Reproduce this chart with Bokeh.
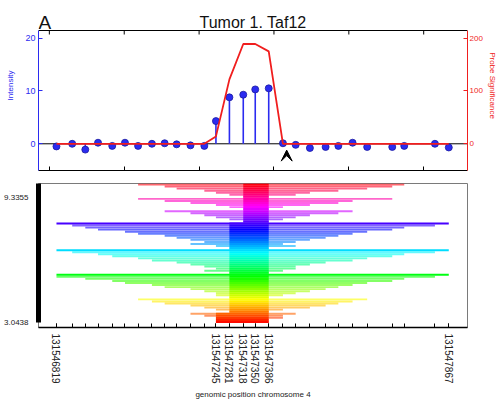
import colorsys
from bokeh.plotting import figure
from bokeh.layouts import column
from bokeh.core.properties import value
from bokeh.models import (Range1d, LinearAxis, FixedTicker, SingleIntervalTicker,
                          Span, ColumnDataSource, BasicTickFormatter, Arrow, VeeHead)
from bokeh.embed import file_html
from bokeh.resources import INLINE

FONT = "Liberation Sans"

# ---------------- data ----------------
title_text = "Tumor 1. Taf12"
panel_letter = "A"
x_axis_title = "genomic position chromosome 4"

probe_pos = [131546819, 131546861, 131546896, 131546930, 131546968, 131547002, 131547037,
             131547074, 131547108, 131547140, 131547177, 131547214, 131547245, 131547281,
             131547318, 131547350, 131547386, 131547424, 131547458, 131547496, 131547538,
             131547572, 131547610, 131547649, 131547716, 131547748, 131547830, 131547867]
intensity = [-0.5, 0.0, -1.1, 0.2, -0.4, 0.2, -0.4, 0.0, 0.1, -0.1, -0.3, -0.4,
             4.3, 8.8, 9.3, 10.3, 10.5,
             0.1, -0.2, -0.8, -0.6, -0.4, 0.2, -0.6, -0.6, -0.4, 0.0, -0.7]
significance = [0, 0, 0, 0, 0, 0, 0, 0, 0, 0, 0, 0,
                14, 122, 189, 189, 175,
                0, 0, 0, 0, 0, 0, 0, 0, 0, 0, 0]
labelled_pos = [131546819, 131547245, 131547281, 131547318, 131547350, 131547386, 131547867]
arrow_pos = 131547434
arrow_tip = -1.2

# candidate segments (probe index start/end), top to bottom, grouped
seg_group = [1, 1, 1, 1, 1, 1, 1,
             2, 2, 2, 2, 2, 2,
             3, 3, 3, 3, 3, 3,
             4, 4, 4, 4, 4, 4, 4, 4, 4, 4, 4, 4, 4,
             5, 5, 5, 5, 5, 5, 5, 5, 5, 5, 5, 5,
             6, 6, 6, 6, 6, 6, 6, 6, 6, 6, 6, 6,
             7, 7, 7, 7, 7, 7, 7,
             8, 8, 8, 8, 8]
seg_start = [6, 8, 9, 11, 12, 13, 14,
             6, 8, 10, 12, 13, 14,
             8, 10, 11, 12, 13, 14,
             0, 1, 2, 3, 5, 6, 8, 9, 10, 11, 10, 12, 13,
             0, 1, 3, 4, 6, 7, 9, 10, 11, 12, 11, 13,
             0, 0, 2, 4, 5, 7, 8, 10, 11, 12, 12, 13,
             6, 7, 8, 10, 11, 12, 13,
             10, 11, 12, 12, 12]
seg_end = [25, 24, 23, 21, 19, 18, 16,
           24, 22, 21, 19, 17, 16,
           22, 21, 19, 18, 17, 16,
           27, 26, 25, 24, 23, 22, 21, 20, 19, 18, 17, 18, 16,
           27, 26, 25, 24, 23, 22, 20, 19, 18, 18, 17, 16,
           27, 26, 25, 24, 23, 22, 21, 20, 19, 18, 17, 16,
           23, 22, 21, 20, 19, 17, 16,
           18, 17, 17, 16, 16]
score_top_label = "9.3355"
score_bottom_label = "3.0438"

# ---------------- derived ----------------
x_lo, x_hi = 131546771, 131547917
y_lo, y_hi = -5.06, 21.46           # visible intensity axis
px_per_unit = 140 / (y_hi - y_lo)   # top axes box is 140 px tall
y_canvas_top = y_hi + 30 / px_per_unit   # room above the box for the titles
sig_scale = 10.0
top_ticks = list(range(131546800, x_hi, 200))
tick_len = 4 / px_per_unit

N = len(seg_start)
groups = sorted(set(seg_group))
core = {}
for g in groups:
    idx = [i for i in range(N) if seg_group[i] == g]
    core[g] = (max(seg_start[i] for i in idx), min(seg_end[i] for i in idx))

def hsv_hex(h):
    r, g, b = colorsys.hsv_to_rgb(h % 1.0, 1, 1)
    return "#%02x%02x%02x" % (int(r * 255), int(g * 255), int(b * 255))

yc = [N - i - 0.5 for i in range(N)]
cols = [hsv_hex(y / N) for y in yc]
full_span = [(seg_start[i] == 0 and seg_end[i] == len(probe_pos) - 1) for i in range(N)]

light = ColumnDataSource(dict(
    left=[probe_pos[s] for s in seg_start], right=[probe_pos[e] for e in seg_end],
    bottom=[y - 0.47 for y in yc], top=[y + 0.47 for y in yc], color=cols,
    alpha=[1.0 if f else 0.6 for f in full_span]))
cores = ColumnDataSource(dict(
    left=[probe_pos[core[g][0]] for g in seg_group], right=[probe_pos[core[g][1]] for g in seg_group],
    bottom=[y - 0.5 for y in yc], top=[y + 0.5 for y in yc], color=cols))

# ---------------- top panel ----------------
BLUE = "#2b2bf0"
RED = "#f01e1e"
p1 = figure(width=499, height=178, x_range=Range1d(x_lo, x_hi), y_range=Range1d(y_lo, y_canvas_top),
            output_backend="svg", toolbar_location=None, title=None,
            min_border_left=38, min_border_right=29, min_border_top=0, min_border_bottom=8,
            x_axis_location=None, y_axis_location=None)
p1.grid.visible = False
p1.outline_line_color = None

# panel letter and title
p1.text(x=[x_lo], y=[y_hi + 8 / px_per_unit], text=[panel_letter], text_font=value(FONT),
        text_font_size="19px", text_color="#111111", text_baseline="alphabetic", text_align="left")
p1.text(x=[(x_lo + x_hi) / 2], y=[y_hi + 8 / px_per_unit], text=[title_text], text_font=value(FONT),
        text_font_size="16px", text_color="#111111", text_baseline="alphabetic", text_align="center")

# bottom axis: ticks only
xb = LinearAxis(ticker=FixedTicker(ticks=[], minor_ticks=top_ticks))
xb.minor_tick_in = 4
xb.minor_tick_out = 0
xb.major_tick_out = 0
xb.major_label_standoff = 0
xb.minor_tick_line_color = "black"
xb.axis_line_color = "black"
p1.add_layout(xb, "below")

# top border of the axes box with inward ticks
p1.add_layout(Span(location=y_hi, dimension="width", line_color="black", line_width=1))
p1.segment(x0=top_ticks, y0=[y_hi] * len(top_ticks), x1=top_ticks,
           y1=[y_hi - tick_len] * len(top_ticks), line_color="black", line_width=1)

yl = LinearAxis(ticker=SingleIntervalTicker(interval=10, num_minor_ticks=0), axis_label="Intensity",
                bounds=(y_lo, y_hi))
yl.axis_line_color = BLUE
yl.major_tick_line_color = BLUE
yl.major_tick_in = 4
yl.major_tick_out = 0
yl.minor_tick_line_color = None
yl.major_label_text_color = BLUE
yl.major_label_text_font = FONT
yl.major_label_text_font_size = "9px"
yl.major_label_standoff = 3
yl.axis_label_text_color = BLUE
yl.axis_label_text_font = FONT
yl.axis_label_text_font_size = "8px"
yl.axis_label_text_font_style = "normal"
yl.axis_label_standoff = 7
p1.add_layout(yl, "left")

p1.extra_y_ranges = {"sig": Range1d(y_lo * sig_scale, y_canvas_top * sig_scale)}
yr = LinearAxis(y_range_name="sig", ticker=SingleIntervalTicker(interval=100, num_minor_ticks=0),
                axis_label="Probe Significance", bounds=(y_lo * sig_scale, y_hi * sig_scale))
yr.axis_line_color = RED
yr.major_tick_line_color = RED
yr.major_tick_in = 4
yr.major_tick_out = 0
yr.minor_tick_line_color = None
yr.major_label_text_color = RED
yr.major_label_text_font = FONT
yr.major_label_text_font_size = "8px"
yr.major_label_standoff = 2
yr.axis_label_text_color = RED
yr.axis_label_text_font = FONT
yr.axis_label_text_font_size = "8px"
yr.axis_label_text_font_style = "normal"
yr.axis_label_standoff = 2
p1.add_layout(yr, "right")

base = Span(location=0, dimension="width", line_color="black", line_width=1, level="underlay")
p1.add_layout(base)
p1.segment(x0=probe_pos, y0=[0] * len(probe_pos), x1=probe_pos, y1=intensity,
           line_color=BLUE, line_width=1.6)
p1.scatter(probe_pos, intensity, size=7, fill_color=BLUE, line_color="#1a1aa0", line_width=0.8)
p1.line(probe_pos, significance, y_range_name="sig", line_color=RED, line_width=1.8)
p1.add_layout(Arrow(end=VeeHead(size=11, fill_color="black", line_color="black"),
                    x_start=arrow_pos, y_start=arrow_tip - 3, x_end=arrow_pos, y_end=arrow_tip,
                    line_alpha=0))

# ---------------- bottom panel ----------------
p2 = figure(width=499, height=230, x_range=p1.x_range, y_range=Range1d(-2.2, N),
            output_backend="svg", toolbar_location=None, title=None,
            min_border_left=38, min_border_right=29, min_border_top=5, min_border_bottom=81)
p2.grid.visible = False
p2.outline_line_color = "#7a7a7a"
p2.quad(left="left", right="right", bottom="bottom", top="top", source=light,
        fill_color="color", fill_alpha="alpha", line_color=None)
p2.quad(left="left", right="right", bottom="bottom", top="top", source=cores,
        fill_color="color", fill_alpha=1.0, line_color=None)

xa = p2.xaxis[0]
xa.ticker = FixedTicker(ticks=labelled_pos, minor_ticks=probe_pos)
xa.formatter = BasicTickFormatter(use_scientific=False)
xa.major_label_orientation = "vertical"
xa.major_label_text_font = FONT
xa.major_label_text_font_size = "10px"
xa.major_label_text_color = "#222222"
xa.major_label_standoff = 6
xa.major_tick_in = 4
xa.major_tick_out = 0
xa.minor_tick_in = 4
xa.minor_tick_out = 0
xa.minor_tick_line_color = "black"
xa.axis_line_width = 1.5
xa.axis_line_color = "black"
xa.axis_label = x_axis_title
xa.axis_label_text_font = FONT
xa.axis_label_text_font_size = "8px"
xa.axis_label_text_font_style = "normal"
xa.axis_label_text_color = "#222222"
xa.axis_label_standoff = 3

ya = p2.yaxis[0]
top_tick = N - seg_group.count(1)
ya.ticker = FixedTicker(ticks=[0, top_tick])
ya.major_label_overrides = {0: score_bottom_label, top_tick: score_top_label}
ya.bounds = (0, N)
ya.axis_line_width = 5
ya.axis_line_color = "black"
ya.major_tick_line_color = None
ya.minor_tick_line_color = None
ya.major_label_text_font = FONT
ya.major_label_text_font_size = "8px"
ya.major_label_text_color = "#222222"
ya.major_label_standoff = 4

layout = column(p1, p2)
open("out.html", "w").write(file_html(layout, INLINE))
